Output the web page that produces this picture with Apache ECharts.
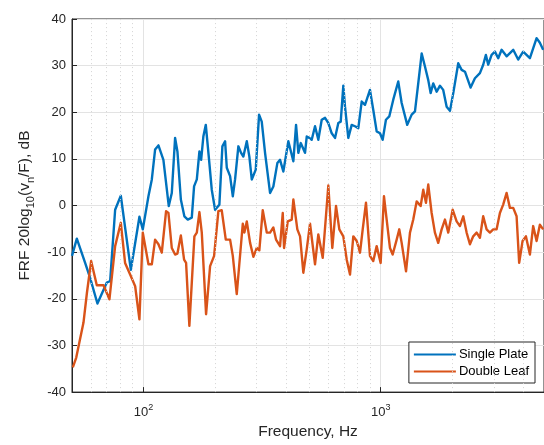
<!DOCTYPE html>
<html>
<head>
<meta charset="utf-8">
<script src="https://cdn.jsdelivr.net/npm/echarts@6/dist/echarts.min.js"></script>
<style>html,body{margin:0;padding:0;background:#fff}#c{width:544px;height:445px}</style>
</head>
<body>
<div id="c"></div>
<script>
// Frequency (Hz), response (dB)
const singlePlate = [[50,-10.8],[52.4,-7.1],[56.8,-12.3],[59.6,-15.5],[64,-21],[70.1,-16.5],[72.4,-16.2],[76,-0.9],[80.3,2.1],[88.5,-13.8],[96.2,-2.4],[99.4,-5.1],[105,2.0],[108.5,5.6],[112,12.0],[115.7,12.9],[117.6,12.7],[121.4,9.8],[127.9,-0.1],[131.7,2.7],[136,14.5],[139.1,11.6],[143.8,1.3],[148.8,-2.3],[153.8,-3.0],[159.9,-2.6],[163.5,4.1],[167.9,5.6],[172.2,11.6],[175.1,9.8],[178.9,14.8],[183.2,17.3],[189.1,9.8],[194.1,3.4],[200.5,-0.9],[209,0.2],[215.2,12.7],[220.9,13.8],[224.6,8.1],[231.9,6.3],[238.1,2.0],[243.4,5.6],[251.3,12.7],[258,11.3],[263.8,10.5],[272.7,13.8],[279.6,10.5],[286.2,5.6],[290.7,5.2],[297.5,7.7],[307.2,19.5],[315.3,18.0],[325.6,11.3],[341.8,2.7],[352.9,4.1],[366.9,9.1],[376.6,9.8],[388.8,7.3],[408.2,13.8],[428.5,9.5],[439.9,17.3],[449.8,11.3],[460.4,13.4],[479.9,11.3],[487.9,14.8],[500.3,14.5],[512.1,14.1],[528.8,17.0],[546,14.1],[564.3,18.4],[582.7,18.8],[601.7,17.7],[621.8,15.5],[642.1,14.5],[663,17.7],[678.6,18.0],[695.9,25.7],[707.4,21.2],[730.4,14.5],[754.9,17.3],[779.4,17.0],[804.8,16.6],[831.8,22.3],[858.8,21.6],[901.4,24.8],[930.8,20.5],[961.8,15.9],[993.3,15.5],[1019.6,14.1],[1052.5,18.4],[1087,19.1],[1130,22.7],[1186,26.6],[1226,22.0],[1294,17.3],[1351,19.5],[1395,20.2],[1440,26.2],[1489,32.6],[1537,29.8],[1587,26.9],[1624,24.1],[1666,26.2],[1722,24.4],[1778,25.7],[1835,24.8],[1897,21.2],[1959,20.3],[2023,24.1],[2123,30.5],[2194,29.1],[2266,28.7],[2394,25.3],[2496,27.3],[2620,28.4],[2705,30.2],[2777,32.3],[2840,30.2],[2935,32.3],[3030,33.0],[3129,31.6],[3234,33.4],[3395,32.0],[3620,33.4],[3798,31.3],[3987,33.0],[4256,31.6],[4541,35.9],[4688,34.9],[4841,33.4]];

const doubleLeaf = [[50.4,-34.7],[52.1,-32.6],[55.9,-25.1],[57.8,-18.7],[60.2,-11.9],[63.6,-17.1],[67.9,-17.1],[71.9,-20.1],[76,-8.7],[80.3,-3.7],[83.7,-12.3],[87.9,-14.8],[92.3,-17.3],[96.2,-24.4],[99.4,-5.8],[105,-12.6],[108.5,-12.6],[112,-7.3],[115.7,-8.3],[119.5,-10.1],[124.6,-1.2],[127.5,-1.6],[131.7,-9.1],[136,-10.5],[139.1,-10.3],[143.8,-6.4],[148.4,-11.6],[151.3,-12.3],[156.2,-25.8],[164,-6.6],[167.9,-5.8],[172.2,-1.4],[176.2,-5.8],[183.7,-23.3],[191,-13.0],[198.6,-10.8],[207,-1.2],[213.8,-1.0],[222.4,-7.3],[231.9,-7.3],[238.1,-10.8],[247.4,-19.0],[262.3,-3.9],[266.4,-5.8],[272.7,-3.4],[281.6,-8.0],[290.7,-11.0],[300.4,-9.1],[308,-9.6],[318.4,-1.0],[331.1,-5.8],[341.8,-5.8],[352.9,-4.7],[362.2,-7.3],[376.6,-8.7],[386.6,-1.6],[391.5,-9.1],[405.8,-3.4],[421.8,-3.0],[428.5,1.3],[445.4,-5.1],[457.3,-6.6],[472.1,-14.4],[487.9,-9.4],[503.8,-3.9],[528.8,-12.6],[546,-6.2],[569.8,-11.2],[601.7,4.3],[625.4,-9.1],[648.3,-0.1],[669.4,-5.1],[695.9,-6.6],[719.3,-11.6],[742.6,-14.8],[766.7,-6.6],[792.5,-7.6],[818.3,-10.1],[840,-5.1],[867.2,0.6],[901.4,-10.8],[930.8,-11.9],[961.8,-8.7],[999.8,-12.3],[1032.5,2.0],[1059.9,-3.0],[1094.5,-9.1],[1123.6,-10.5],[1168,-7.3],[1198,-5.1],[1226,-8.0],[1279,-14.1],[1329,-5.8],[1372,-3.0],[1418,0.9],[1474,-0.1],[1512,3.4],[1552,0.6],[1587,4.5],[1640,-1.6],[1693,-5.8],[1748,-8.0],[1807,-5.1],[1866,-3.0],[1927,-5.8],[2011,-0.9],[2090,-3.4],[2158,-4.4],[2229,-2.3],[2303,-5.8],[2378,-8.3],[2455,-6.6],[2538,-5.8],[2620,-6.9],[2705,-2.3],[2796,-5.1],[2887,-5.8],[2981,-5.1],[3081,-5.1],[3181,-1.6],[3284,0.2],[3395,2.7],[3505,-0.5],[3620,-0.5],[3740,-2.3],[3835,-12.3],[3964,-7.6],[4094,-6.6],[4256,-10.5],[4393,-4.4],[4541,-7.6],[4688,-4.1],[4841,-5.1]];

const minorFreqs = [60,70,80,90,200,300,400,500,600,700,800,900,2000,3000,4000];
const yTicks = {min:-40, max:40, step:10};
const xRange = {min:50, max:4880};

const FONT = 'Liberation Sans, Arial, Helvetica, sans-serif';
const TXT = '#262626';

const chart = echarts.init(document.getElementById('c'), null, {renderer:'canvas'});
chart.setOption({
  animation:false,
  backgroundColor:'#fff',
  grid:{left:72, top:19, right:0, bottom:52, show:true, borderColor:TXT, borderWidth:1, backgroundColor:'transparent'},
  legend:{
    orient:'vertical', right:9, top:342,
    backgroundColor:'#fff', borderColor:TXT, borderWidth:1,
    padding:[6,6,5,5], itemGap:4, itemWidth:42, itemHeight:2,
    icon:'rect',
    textStyle:{fontFamily:FONT, fontSize:13, color:'#000', padding:[0,0,0,-2]},
    data:['Single Plate','Double Leaf']
  },
  xAxis:{
    type:'log', logBase:10, min:xRange.min, max:xRange.max,
    axisLine:{onZero:false, lineStyle:{color:TXT, width:1}},
    axisTick:{inside:true, length:5, lineStyle:{color:TXT}},
    splitLine:{show:true, lineStyle:{color:'#e3e3e3', width:1}},
    axisLabel:{
      showMinLabel:false, showMaxLabel:false, margin:13,
      formatter:v=>'{b|10}{sup|'+Math.round(Math.log10(v))+'}',
      rich:{
        b:{fontFamily:FONT, fontSize:13, color:TXT, verticalAlign:'bottom', lineHeight:14},
        sup:{fontFamily:FONT, fontSize:9, color:TXT, verticalAlign:'bottom', lineHeight:10, padding:[0,0,7,0]}
      }
    },
    name:'Frequency, Hz', nameLocation:'middle', nameGap:24,
    nameTextStyle:{fontFamily:FONT, fontSize:15.5, color:TXT}
  },
  yAxis:{
    type:'value', min:yTicks.min, max:yTicks.max, interval:yTicks.step,
    axisLine:{show:true, lineStyle:{color:TXT, width:1}},
    axisTick:{show:true, inside:true, length:5, lineStyle:{color:TXT}},
    splitLine:{show:true, lineStyle:{color:'#e3e3e3', width:1}},
    axisLabel:{fontFamily:FONT, fontSize:13, color:TXT, margin:6},
    name:'{t|FRF 20log}{s|10}{t|(v}{s|n}{t|/F), dB}',
    nameLocation:'middle', nameGap:32, nameRotate:90,
    nameTextStyle:{
      rich:{
        t:{fontFamily:FONT, fontSize:15.5, color:TXT, verticalAlign:'top', lineHeight:17},
        s:{fontFamily:FONT, fontSize:11, color:TXT, verticalAlign:'top', lineHeight:12, padding:[9,0,0,0]}
      }
    }
  },
  series:[
    {
      name:'Single Plate', type:'line', data:singlePlate, showSymbol:false, symbol:'none',
      lineStyle:{color:'#0072BD', width:2.4, join:'round'}, itemStyle:{color:'#0072BD'}, z:3,
      markLine:{
        silent:true, symbol:'none', label:{show:false},
        lineStyle:{color:'#d4d4d4', type:[1,3], width:1},
        data:minorFreqs.map(f=>({xAxis:f}))
      }
    },
    {
      name:'Double Leaf', type:'line', data:doubleLeaf, showSymbol:false, symbol:'none',
      lineStyle:{color:'#D95319', width:2.4, join:'round'}, itemStyle:{color:'#D95319'}, z:3
    }
  ]
});
</script>
</body>
</html>
